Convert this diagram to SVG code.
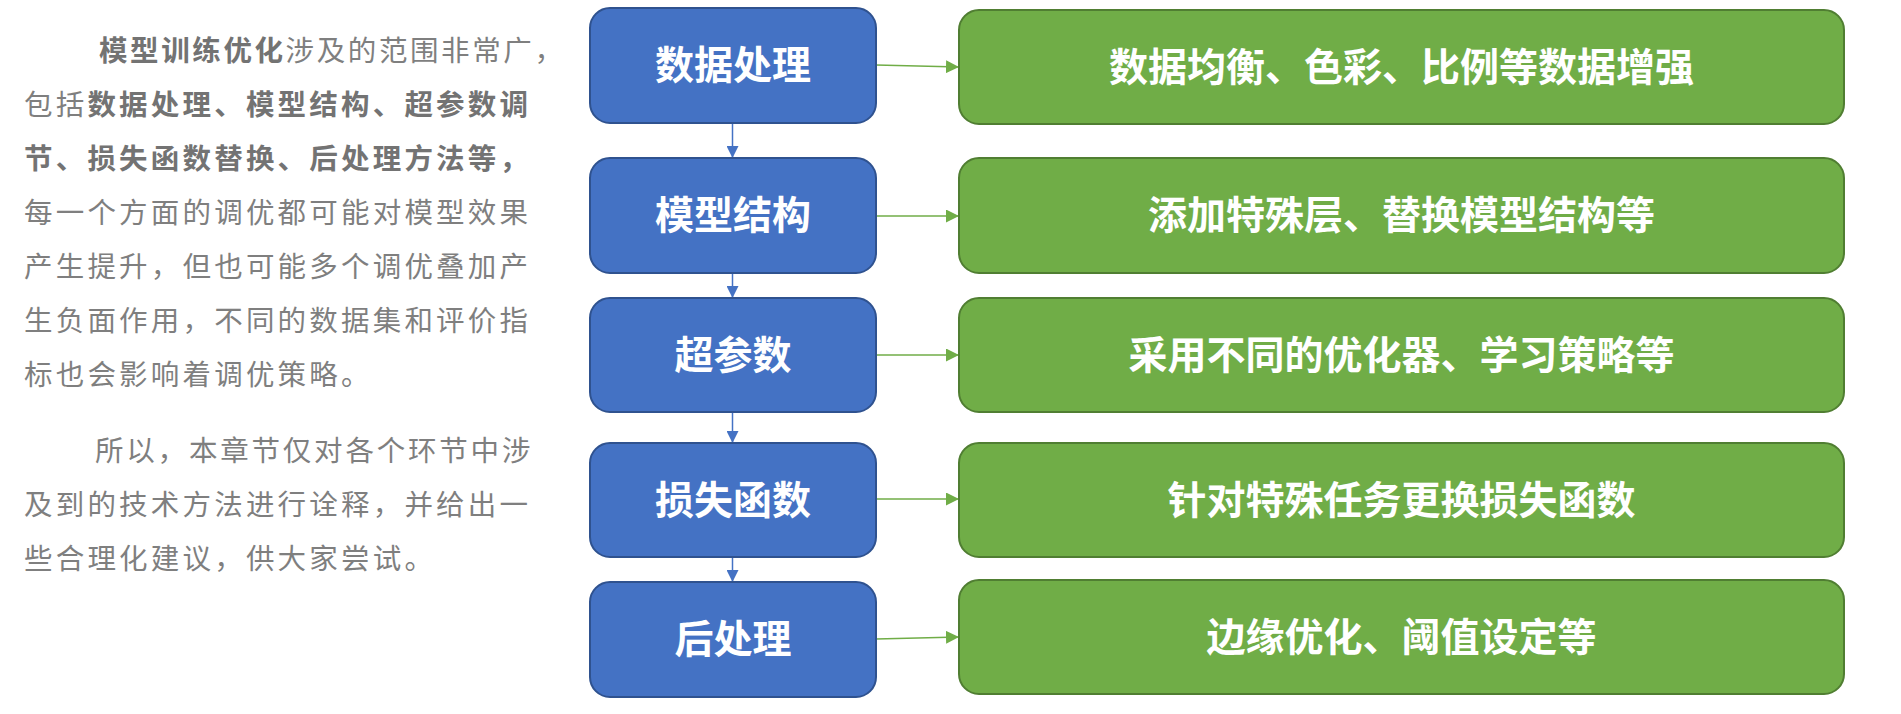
<svg xmlns="http://www.w3.org/2000/svg" width="1901" height="714" viewBox="0 0 1901 714">
<style>
.para{font-family:"Noto Sans CJK SC","Noto Sans",sans-serif;font-size:28.5px;fill:#7f7f7f;letter-spacing:3.2px}
.b{font-weight:bold;fill:#737373}
.blue rect{fill:#4472C4;stroke:#2F528F;stroke-width:2}
.green rect{fill:#70AD47;stroke:#507E32;stroke-width:2}
.lbl{font-family:"Noto Sans CJK SC","Noto Sans",sans-serif;font-size:39px;font-weight:bold;fill:#ffffff;text-anchor:middle}
.cb{stroke:#4472C4;stroke-width:1.5;fill:none}
.cg{stroke:#70AD47;stroke-width:1.5;fill:none}
</style>
<defs>
<marker id="ab" viewBox="0 0 12 12" markerWidth="12" markerHeight="12" refX="12" refY="6" orient="auto" markerUnits="userSpaceOnUse"><path d="M0,0 L12,6 L0,12 z" fill="#4472C4"/></marker>
<marker id="ag" viewBox="0 0 13 13" markerWidth="13" markerHeight="13" refX="13" refY="6.5" orient="auto" markerUnits="userSpaceOnUse"><path d="M0,0 L13,6.5 L0,13 z" fill="#70AD47"/></marker>
</defs>
<rect width="1901" height="714" fill="#ffffff"/>
<g id="text">
<text class="para" x="99" y="61" style="letter-spacing:2.6px"><tspan class="b">模型训练优化</tspan>涉及的范围非常广，</text>
<text class="para" x="24" y="115">包括<tspan class="b">数据处理、模型结构、超参数调</tspan></text>
<text class="para" x="24" y="169"><tspan class="b">节、损失函数替换、后处理方法等，</tspan></text>
<text class="para" x="24" y="223">每一个方面的调优都可能对模型效果</text>
<text class="para" x="24" y="277">产生提升，但也可能多个调优叠加产</text>
<text class="para" x="24" y="331">生负面作用，不同的数据集和评价指</text>
<text class="para" x="24" y="385">标也会影响着调优策略。</text>
<text class="para" x="95" y="461" style="letter-spacing:2.8px">所以，本章节仅对各个环节中涉</text>
<text class="para" x="24" y="515">及到的技术方法进行诠释，并给出一</text>
<text class="para" x="24" y="569">些合理化建议，供大家尝试。</text>
</g>
<g id="connectors">
<line class="cb" x1="732.5" y1="123" x2="732.5" y2="158" marker-end="url(#ab)"/>
<line class="cb" x1="732.5" y1="274" x2="732.5" y2="298" marker-end="url(#ab)"/>
<line class="cb" x1="732.5" y1="413" x2="732.5" y2="443" marker-end="url(#ab)"/>
<line class="cb" x1="732.5" y1="558" x2="732.5" y2="582" marker-end="url(#ab)"/>
<line class="cg" x1="876" y1="65" x2="959" y2="67" marker-end="url(#ag)"/>
<line class="cg" x1="876" y1="216" x2="959" y2="216" marker-end="url(#ag)"/>
<line class="cg" x1="876" y1="355" x2="959" y2="355" marker-end="url(#ag)"/>
<line class="cg" x1="876" y1="499" x2="959" y2="499" marker-end="url(#ag)"/>
<line class="cg" x1="876" y1="639" x2="959" y2="637" marker-end="url(#ag)"/>
</g>
<g id="n1" class="blue"><rect x="590" y="8" width="286" height="115" rx="20"/><text class="lbl" x="733" y="79">数据处理</text></g>
<g id="n2" class="blue"><rect x="590" y="158" width="286" height="115" rx="20"/><text class="lbl" x="733" y="229">模型结构</text></g>
<g id="n3" class="blue"><rect x="590" y="298" width="286" height="114" rx="20"/><text class="lbl" x="733" y="369">超参数</text></g>
<g id="n4" class="blue"><rect x="590" y="443" width="286" height="114" rx="20"/><text class="lbl" x="733" y="514">损失函数</text></g>
<g id="n5" class="blue"><rect x="590" y="582" width="286" height="115" rx="20"/><text class="lbl" x="733" y="653">后处理</text></g>
<g id="g1" class="green"><rect x="959" y="10" width="885" height="114" rx="20"/><text class="lbl" x="1401.5" y="81">数据均衡、色彩、比例等数据增强</text></g>
<g id="g2" class="green"><rect x="959" y="158" width="885" height="115" rx="20"/><text class="lbl" x="1401.5" y="229">添加特殊层、替换模型结构等</text></g>
<g id="g3" class="green"><rect x="959" y="298" width="885" height="114" rx="20"/><text class="lbl" x="1401.5" y="369">采用不同的优化器、学习策略等</text></g>
<g id="g4" class="green"><rect x="959" y="443" width="885" height="114" rx="20"/><text class="lbl" x="1401.5" y="514">针对特殊任务更换损失函数</text></g>
<g id="g5" class="green"><rect x="959" y="580" width="885" height="114" rx="20"/><text class="lbl" x="1401.5" y="651">边缘优化、阈值设定等</text></g>
</svg>
